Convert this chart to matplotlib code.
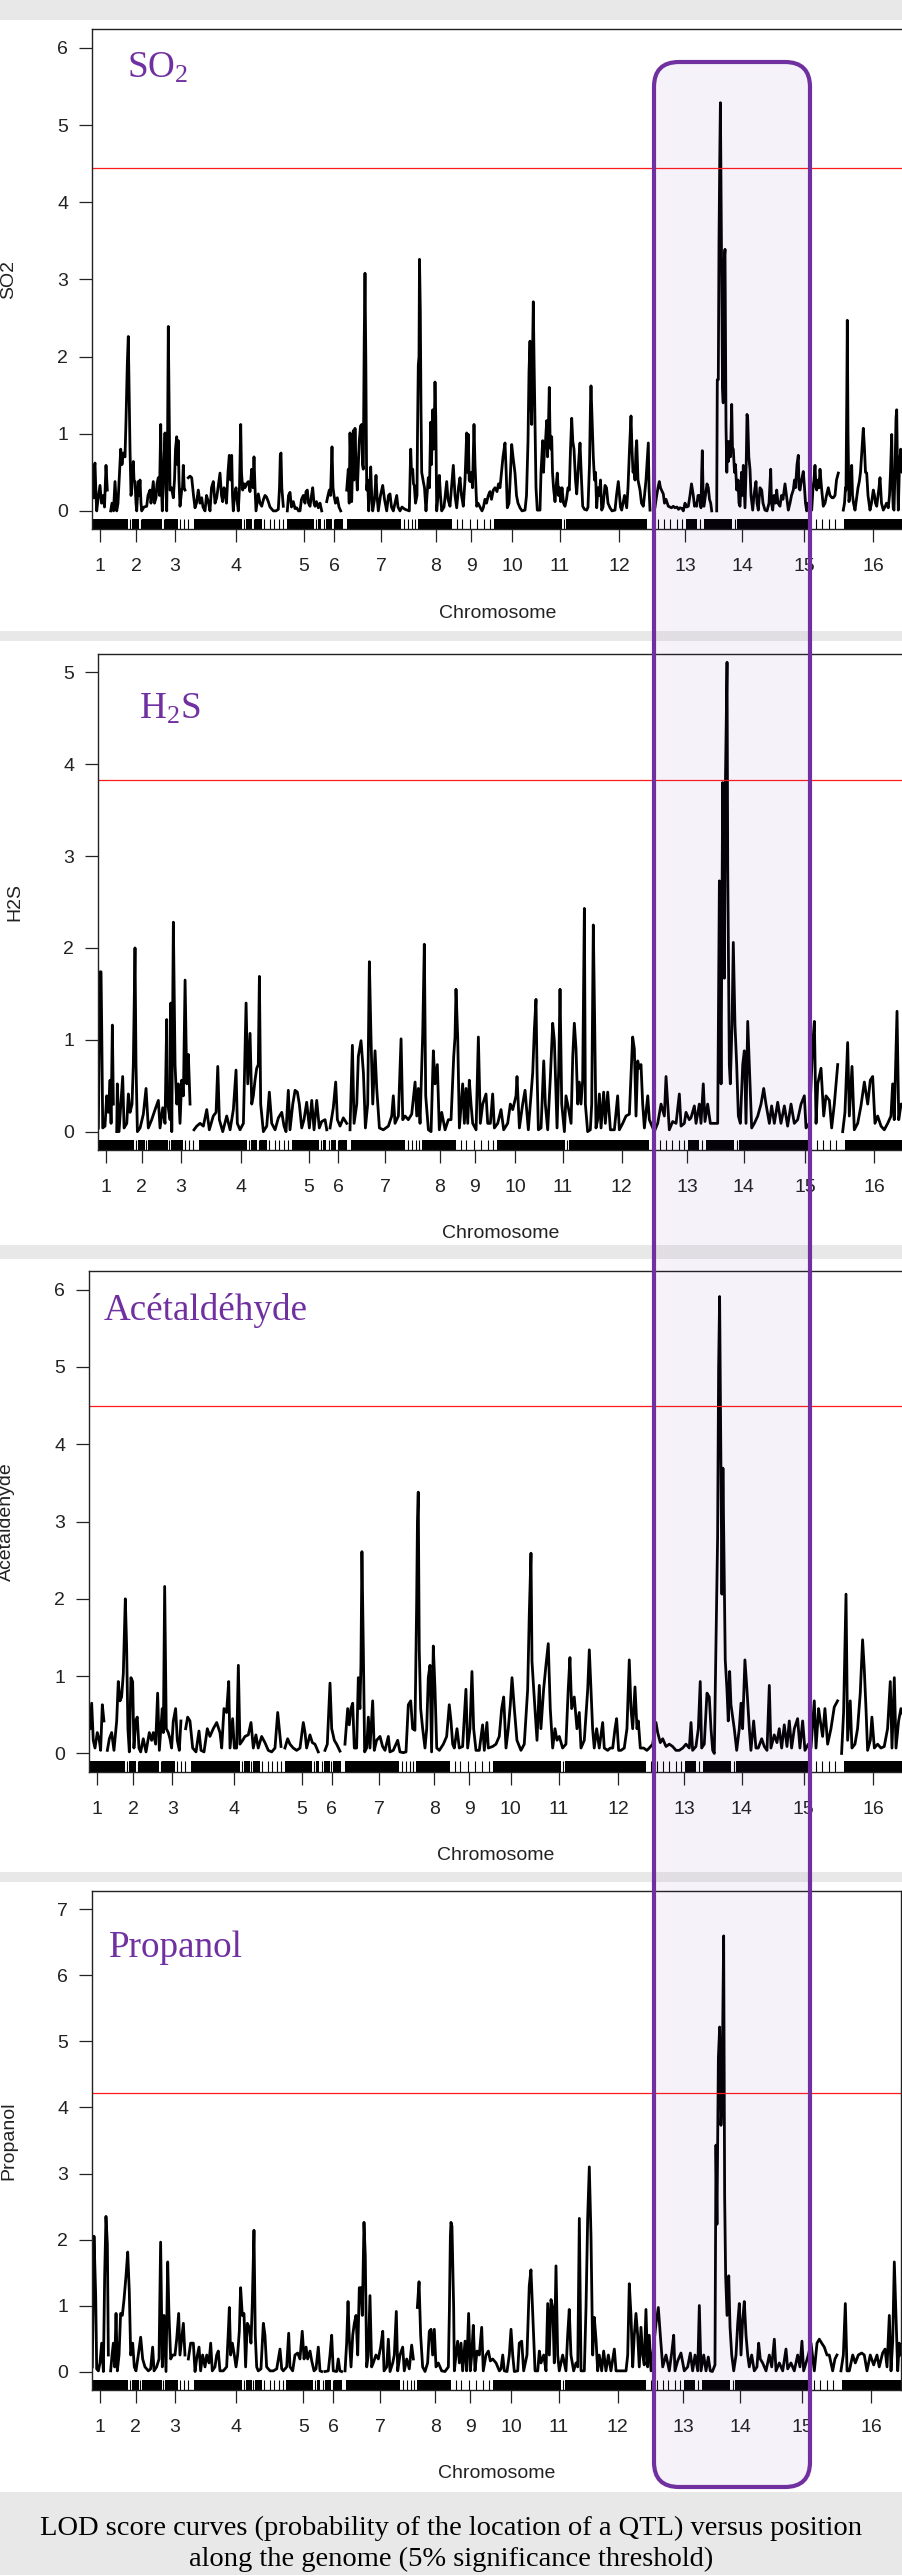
import numpy as np
import matplotlib
matplotlib.use("Agg")
import matplotlib.pyplot as plt
from matplotlib.patches import Rectangle, FancyBboxPatch

plt.rcParams["font.family"] = ["Liberation Sans", "DejaVu Sans"]
plt.rcParams["mathtext.fontset"] = "custom"
plt.rcParams["mathtext.rm"] = "Liberation Serif"
plt.rcParams["mathtext.it"] = "Liberation Serif:italic"

nan = float("nan")

# ---------------- data (genome position, LOD) ----------------
chromosomes = [str(i) for i in range(1, 17)]
chrom_mid = [8, 44, 83, 144, 212, 242, 289, 344, 379, 420, 468, 527, 593, 650, 712, 781]

traits = ["SO2", "H2S", "Acetaldehyde", "Propanol"]
titles = [r"SO$_2$", r"H$_2$S", "Acétaldéhyde", "Propanol"]
thresholds = [4.45, 3.83, 4.5, 4.22]
y_max = [6, 5, 6, 7]

# marker rug: dense blocks and isolated markers
rug_blocks = [(0, 36), (40, 47), (50, 70), (73, 86), (102, 150), (154, 160), (163, 170),
              (195, 222), (226, 229), (234, 240), (243, 251), (255, 309), (326, 360),
              (402, 470), (474, 555), (594, 605), (612, 640), (645, 718), (752, 812)]
rug_ticks = [38, 48.5, 71.5, 88, 92, 96, 152, 161.5, 172, 178, 182, 187, 191, 224, 232,
             241.5, 312, 316, 320, 323, 365, 370, 378, 385, 392, 398, 472, 560, 566, 572,
             578, 585, 590, 608, 643, 724, 730, 737, 743]

so2_curve = [
    (1.3, 0.17), (2.0, 0.55), (3.0, 0.62), (4.0, 0.2), (4.7, 0.0), (6.0, 0.15), (8.0, 0.33),
    (9.5, 0.1), (11.3, 0.2), (12.5, 0.05), (14.0, 0.59), (15.3, 0.27), (nan, nan),
    (18.7, 0.0), (20.0, 0.1), (21.5, 0.0), (23.0, 0.38), (24.7, 0.0), (26.0, 0.1), (28.7, 0.8),
    (30.0, 0.6), (31.3, 0.75), (33.0, 0.7), (34.0, 1.17), (35.3, 1.9), (36.3, 2.26), (37.2, 1.5),
    (38.0, 0.8), (39.0, 0.2), (39.7, 0.27), (41.3, 0.64), (42.0, 0.4), (43.0, 0.38), (44.0, 0.1),
    (44.7, 0.0), (46.3, 0.38), (47.0, 0.2), (48.0, 0.4), (49.0, 0.1), (49.7, 0.0), (52.0, 0.05),
    (54.7, 0.06), (56.0, 0.2), (58.0, 0.27), (59.0, 0.1), (61.3, 0.38), (62.5, 0.1), (64.0, 0.17),
    (65.0, 0.35), (66.3, 0.43), (67.5, 0.2), (68.7, 1.12), (69.5, 0.3), (70.3, 0.0), (71.5, 0.5),
    (73.0, 1.01), (74.0, 0.3), (74.7, 0.0), (75.5, 0.8), (76.3, 2.39), (77.0, 1.5), (78.0, 0.27),
    (79.5, 0.3), (81.3, 0.17), (82.5, 0.4), (83.5, 0.8), (84.7, 0.96), (85.5, 0.6), (86.3, 0.91),
    (87.0, 0.4), (88.0, 0.06), (89.7, 0.27), (90.5, 0.3), (91.3, 0.59), (92.2, 0.3), (93.0, 0.27),
    (nan, nan),
    (96.3, 0.43), (98.0, 0.45), (99.7, 0.43), (101.5, 0.2), (103.0, 0.04), (104.5, 0.1),
    (106.3, 0.27), (108.0, 0.1), (109.7, 0.17), (111.0, 0.05), (113.0, 0.0), (114.5, 0.2),
    (116.3, 0.12), (118.0, 0.0), (119.5, 0.3), (121.3, 0.38), (123.0, 0.1), (124.7, 0.17),
    (126.0, 0.3), (128.0, 0.49), (129.5, 0.2), (130.7, 0.12), (132.0, 0.3), (133.0, 0.27),
    (134.5, 0.1), (136.0, 0.5), (137.3, 0.72), (138.5, 0.4), (139.7, 0.72), (140.5, 0.2),
    (141.3, 0.0), (142.5, 0.2), (144.0, 0.3), (145.0, 0.15), (146.3, 0.0), (147.5, 0.3),
    (148.7, 1.12), (149.5, 0.5), (150.7, 0.27), (152.0, 0.35), (153.0, 0.3), (154.5, 0.35),
    (156.3, 0.38), (158.0, 0.25), (159.7, 0.54), (161.0, 0.3), (162.0, 0.7), (163.0, 0.3),
    (164.0, 0.0), (165.0, 0.1), (166.3, 0.22), (168.0, 0.1), (169.7, 0.06), (171.5, 0.15),
    (173.0, 0.2), (174.5, 0.18), (176.3, 0.12), (178.0, 0.05), (181.3, 0.0), (184.0, 0.0),
    (186.3, 0.02), (187.5, 0.3), (188.3, 0.72), (189.0, 0.75), (189.8, 0.3), (191.3, 0.06),
    (nan, nan),
    (195.3, 0.0), (196.5, 0.2), (198.0, 0.24), (199.5, 0.05), (201.3, 0.12), (203.0, 0.03),
    (204.7, 0.04), (206.5, 0.0), (208.0, 0.0), (209.5, 0.15), (211.3, 0.2), (213.0, 0.1),
    (214.0, 0.25), (215.3, 0.27), (216.5, 0.1), (218.0, 0.06), (219.5, 0.2), (220.7, 0.3),
    (222.0, 0.1), (223.0, 0.06), (224.5, 0.12), (226.3, 0.04), (228.0, 0.1), (229.7, 0.0),
    (nan, nan),
    (234.7, 0.12), (236.0, 0.2), (237.3, 0.27), (238.5, 0.2), (239.5, 0.6), (240.0, 0.83),
    (241.0, 0.3), (242.0, 0.2), (243.5, 0.1), (245.3, 0.17), (247.0, 0.05), (248.7, 0.0),
    (nan, nan),
    (254.7, 0.27), (255.5, 0.4), (256.3, 0.54), (257.2, 0.1), (258.0, 1.01), (259.0, 0.5),
    (259.7, 0.12), (260.5, 0.6), (261.3, 1.04), (262.0, 0.4), (263.0, 1.07), (264.0, 0.6),
    (265.3, 0.27), (266.3, 0.6), (267.3, 0.91), (268.5, 1.1), (269.7, 1.12), (270.5, 0.6),
    (271.3, 0.54), (272.2, 2.2), (273.0, 3.08), (273.8, 2.0), (274.7, 0.27), (275.7, 0.4),
    (276.7, 0.0), (277.7, 0.3), (278.7, 0.57), (279.7, 0.2), (280.7, 0.0), (282.5, 0.15),
    (284.0, 0.46), (285.0, 0.2), (286.3, 0.0), (288.5, 0.2), (290.7, 0.33), (292.5, 0.15),
    (294.7, 0.0), (296.5, 0.2), (298.0, 0.22), (299.5, 0.05), (301.3, 0.0), (303.0, 0.1),
    (304.7, 0.2), (306.0, 0.05), (308.0, 0.0), (310.0, 0.05), (313.0, 0.02), (315.0, 0.01),
    (317.3, 0.0), (318.7, 0.8), (319.5, 0.5), (320.7, 0.54), (321.5, 0.35), (322.3, 0.33),
    (323.5, 0.1), (325.0, 0.2), (325.5, 1.0), (326.3, 1.89), (327.0, 2.0), (327.5, 3.26),
    (328.3, 2.6), (329.0, 1.3), (329.7, 0.5), (331.3, 0.38), (332.5, 0.3), (334.0, 0.0),
    (335.0, 0.2), (336.3, 0.43), (337.5, 0.3), (338.7, 1.15), (339.5, 0.6), (340.7, 1.31),
    (341.5, 0.8), (342.2, 1.0), (343.0, 1.67), (343.8, 1.2), (344.7, 0.0), (346.0, 0.2),
    (347.3, 0.46), (348.5, 0.2), (349.7, 0.0), (352.0, 0.05), (354.7, 0.38), (356.0, 0.15),
    (358.0, 0.06), (359.5, 0.3), (361.3, 0.59), (363.0, 0.2), (364.7, 0.04), (366.5, 0.3),
    (368.0, 0.43), (369.5, 0.2), (371.3, 0.06), (373.0, 0.4), (374.7, 1.01), (375.5, 0.5),
    (376.3, 0.99), (377.2, 0.4), (378.0, 0.38), (379.5, 0.5), (380.5, 0.3), (382.0, 1.12),
    (383.0, 0.6), (384.7, 0.06), (386.0, 0.1), (388.0, 0.05), (390.0, 0.0), (391.3, 0.04),
    (393.0, 0.15), (394.5, 0.1), (396.3, 0.2), (398.0, 0.25), (399.5, 0.15), (401.3, 0.27),
    (403.0, 0.3), (405.0, 0.25), (406.5, 0.35), (408.0, 0.3), (409.5, 0.5), (411.0, 0.7),
    (413.0, 0.88), (414.2, 0.5), (415.3, 0.04), (417.0, 0.1), (418.5, 0.5), (419.7, 0.86),
    (421.0, 0.7), (423.0, 0.49), (424.5, 0.2), (426.0, 0.1), (428.0, 0.04), (430.0, 0.0),
    (433.0, 0.01), (434.5, 0.2), (436.0, 0.9), (437.0, 1.8), (438.0, 2.2), (438.8, 1.5),
    (439.7, 1.12), (440.5, 2.0), (441.3, 2.71), (442.0, 2.0), (443.0, 1.12), (444.0, 0.3),
    (445.3, 0.01), (448.0, 0.01), (449.0, 0.5), (450.7, 0.91), (451.5, 0.5), (452.5, 0.8),
    (453.5, 0.9), (454.7, 1.17), (455.5, 0.7), (456.3, 1.0), (457.3, 1.6), (458.0, 1.0),
    (459.0, 0.8), (459.7, 0.96), (460.5, 0.5), (461.5, 0.3), (463.0, 0.12), (464.0, 0.3),
    (465.3, 0.49), (466.5, 0.2), (467.5, 0.3), (468.7, 0.12), (470.0, 0.3), (471.5, 0.1),
    (473.0, 0.06), (474.5, 0.15), (476.0, 0.3), (477.3, 0.27), (478.5, 0.8), (479.7, 1.2),
    (480.8, 0.9), (482.0, 0.8), (483.5, 0.4), (484.7, 0.22), (486.0, 0.5), (487.0, 0.7),
    (488.0, 0.88), (489.5, 0.4), (490.7, 0.06), (492.5, 0.02), (494.7, 0.01), (496.0, 0.05),
    (497.5, 0.6), (498.5, 1.4), (499.0, 1.62), (500.0, 1.2), (501.3, 0.7), (502.5, 0.4),
    (503.5, 0.5), (504.7, 0.04), (506.0, 0.3), (507.5, 0.2), (508.5, 0.4), (509.7, 0.01),
    (511.0, 0.05), (513.0, 0.33), (514.5, 0.3), (516.0, 0.1), (518.0, 0.04), (520.0, 0.0),
    (523.0, 0.01), (524.5, 0.2), (526.3, 0.38), (527.5, 0.2), (528.5, 0.05), (529.7, 0.01),
    (531.0, 0.1), (532.5, 0.2), (534.7, 0.04), (536.0, 0.3), (537.5, 0.8), (539.0, 1.23),
    (540.0, 0.8), (541.0, 0.5), (542.0, 0.54), (543.0, 0.4), (544.0, 0.8), (544.7, 0.91),
    (546.0, 0.4), (548.0, 0.27), (549.5, 0.1), (551.3, 0.06), (552.5, 0.2), (554.0, 0.4),
    (555.5, 0.7), (556.3, 0.88), (557.0, 0.3), (558.0, 0.01), (nan, nan),
    (563.0, 0.05), (564.7, 0.2), (566.0, 0.3), (567.3, 0.38), (568.5, 0.3), (569.5, 0.27),
    (571.3, 0.22), (572.5, 0.1), (574.0, 0.15), (576.3, 0.06), (578.0, 0.05), (579.5, 0.04),
    (581.3, 0.06), (583.0, 0.04), (585.0, 0.05), (586.5, 0.02), (588.0, 0.04), (590.0, 0.03),
    (591.3, 0.0), (593.0, 0.1), (594.5, 0.05), (596.3, 0.06), (598.0, 0.2), (599.5, 0.35),
    (601.3, 0.2), (602.5, 0.06), (604.0, 0.1), (604.7, 0.06), (606.0, 0.2), (607.5, 0.2),
    (609.0, 0.04), (609.7, 0.5), (610.3, 0.78), (611.0, 0.3), (612.0, 0.06), (613.5, 0.2),
    (615.0, 0.35), (616.3, 0.3), (617.5, 0.15), (618.7, 0.1), (619.7, 0.0), (nan, nan),
    (624.7, 0.0), (625.3, 1.7), (626.3, 1.7), (627.0, 3.5), (627.7, 4.5), (628.4, 5.29),
    (629.0, 4.2), (629.5, 3.4), (629.9, 2.6), (630.5, 1.6), (631.2, 1.4), (632.0, 3.2),
    (633.0, 3.39), (633.6, 2.0), (634.0, 1.1), (634.8, 0.5), (635.5, 0.9), (636.3, 0.64),
    (637.5, 0.9), (638.5, 0.7), (639.7, 1.38), (640.5, 0.8), (641.3, 0.8), (642.5, 0.5),
    (643.5, 0.6), (644.7, 0.27), (646.0, 0.4), (647.0, 0.1), (648.0, 0.06), (649.5, 0.5),
    (650.5, 0.2), (651.3, 0.59), (652.2, 0.3), (653.0, 0.04), (654.2, 0.6), (655.0, 1.25),
    (655.7, 1.2), (656.8, 0.7), (658.0, 0.54), (659.0, 0.2), (660.7, 0.01), (662.0, 0.2),
    (663.0, 0.3), (664.0, 0.38), (665.0, 0.1), (666.3, 0.01), (668.0, 0.3), (669.7, 0.27),
    (671.0, 0.1), (673.0, 0.01), (675.0, 0.0), (677.0, 0.1), (678.7, 0.54), (679.5, 0.1),
    (680.7, 0.01), (682.0, 0.2), (683.5, 0.1), (684.7, 0.27), (686.0, 0.1), (688.0, 0.06),
    (689.5, 0.2), (691.0, 0.15), (693.0, 0.35), (694.5, 0.2), (696.3, 0.01), (698.0, 0.1),
    (699.5, 0.2), (701.3, 0.27), (702.5, 0.4), (703.5, 0.3), (705.0, 0.6), (706.3, 0.72),
    (707.0, 0.3), (708.0, 0.27), (709.5, 0.4), (711.3, 0.51), (712.5, 0.3), (713.5, 0.1),
    (714.7, 0.0), (716.0, 0.1), (718.0, 0.05), (719.7, 0.01), (721.0, 0.3), (722.0, 0.4),
    (723.0, 0.59), (724.0, 0.3), (724.7, 0.27), (726.0, 0.4), (727.0, 0.3), (728.0, 0.54),
    (729.5, 0.3), (731.3, 0.06), (733.0, 0.1), (734.5, 0.2), (736.3, 0.3), (738.0, 0.2),
    (740.0, 0.17), (741.3, 0.17), (743.0, 0.2), (744.5, 0.4), (746.3, 0.49), (nan, nan),
    (751.3, 0.01), (752.5, 0.1), (753.5, 0.3), (754.0, 0.27), (754.8, 1.5), (755.3, 2.47),
    (756.0, 1.0), (757.0, 0.12), (758.5, 0.3), (759.7, 0.59), (760.5, 0.2), (761.5, 0.1),
    (763.0, 0.01), (765.0, 0.2), (766.0, 0.3), (767.3, 0.38), (768.5, 0.5), (770.0, 0.8),
    (771.3, 1.07), (772.5, 0.8), (773.5, 0.5), (774.7, 0.49), (776.0, 0.2), (778.0, 0.01),
    (779.5, 0.1), (781.3, 0.27), (782.5, 0.2), (783.5, 0.1), (784.7, 0.06), (786.0, 0.2),
    (787.0, 0.3), (788.0, 0.43), (789.5, 0.1), (791.3, 0.01), (793.0, 0.05), (794.5, 0.1),
    (796.3, 0.04), (797.5, 0.2), (798.5, 0.5), (799.7, 0.99), (800.5, 0.3), (801.2, 0.04),
    (802.0, 0.01), (803.0, 0.5), (804.0, 1.2), (804.7, 1.31), (805.5, 0.5), (806.3, 0.01),
    (807.5, 0.6), (808.7, 0.8), (810.0, 0.5), (812.0, 0.6),
]

h2s_curve = [
    (0.3, 0.04), (2.0, 1.74), (3.0, 1.74), (3.7, 1.12), (4.7, 0.04), (7.0, 0.06), (8.7, 0.39),
    (10.4, 0.21), (12.1, 0.56), (13.1, 0.09), (14.4, 1.16), (15.4, 0.3), (nan, nan),
    (18.8, 0.0), (19.4, 0.52), (21.1, 0.0), (24.8, 0.6), (26.2, 0.04), (28.9, 0.09), (30.5, 0.41),
    (32.2, 0.21), (34.2, 0.3), (35.5, 0.73), (37.2, 2.0), (38.2, 0.73), (39.6, 0.0), (42.3, 0.04),
    (45.6, 0.19), (48.3, 0.47), (50.6, 0.04), (54.0, 0.13), (57.4, 0.24), (60.7, 0.34),
    (62.4, 0.04), (65.1, 0.26), (67.4, 0.09), (69.1, 1.22), (70.1, 0.3), (72.5, 0.13), (73.2, 1.4),
    (74.2, 0.0), (75.8, 2.28), (77.5, 0.73), (79.2, 0.3), (80.8, 0.52), (82.5, 0.09), (84.2, 0.56),
    (85.9, 0.39), (87.6, 1.65), (89.3, 0.52), (90.9, 0.84), (92.6, 0.3), (nan, nan),
    (96.6, 0.02), (99.3, 0.06), (102.7, 0.09), (106.0, 0.06), (109.4, 0.24), (112.0, 0.02),
    (116.0, 0.17), (118.8, 0.21), (120.5, 0.71), (122.1, 0.13), (125.5, 0.0), (129.5, 0.17),
    (132.9, 0.02), (136.2, 0.24), (138.9, 0.67), (140.2, 0.09), (142.9, 0.02), (146.3, 0.09),
    (149.0, 1.4), (150.7, 0.52), (153.0, 1.07), (154.7, 0.3), (156.3, 0.39), (158.0, 0.56),
    (159.7, 0.69), (161.3, 0.73), (162.4, 1.69), (163.7, 0.3), (166.4, 0.0), (169.8, 0.06),
    (172.4, 0.43), (174.8, 0.09), (178.2, 0.02), (181.5, 0.15), (184.9, 0.21), (187.2, 0.06),
    (189.2, 0.0), (191.5, 0.45), (193.2, 0.02), (196.0, 0.3), (198.3, 0.45), (200.6, 0.43),
    (202.6, 0.3), (205.0, 0.04), (207.3, 0.13), (210.0, 0.32), (212.7, 0.04), (215.1, 0.34),
    (217.4, 0.02), (220.1, 0.34), (222.7, 0.04), (225.1, 0.11), (228.5, 0.13), (230.2, 0.02),
    (nan, nan),
    (233.5, 0.04), (236.8, 0.26), (239.2, 0.54), (240.9, 0.13), (243.6, 0.06), (246.9, 0.15),
    (250.3, 0.09), (nan, nan),
    (253.6, 0.02), (256.0, 0.94), (257.7, 0.09), (260.4, 0.3), (262.0, 0.82), (264.7, 0.99),
    (267.1, 0.64), (269.1, 0.04), (271.4, 0.3), (273.1, 1.85), (274.8, 0.99), (276.5, 0.3),
    (278.8, 0.88), (280.5, 0.47), (283.2, 0.04), (287.2, 0.02), (292.2, 0.06), (295.6, 0.17),
    (297.2, 0.39), (298.9, 0.09), (302.3, 0.17), (305.0, 1.01), (306.7, 0.13), (309.0, 0.17),
    (312.3, 0.13), (315.7, 0.19), (319.1, 0.54), (320.8, 0.17), (322.4, 0.47), (324.1, 0.09),
    (326.8, 1.07), (328.4, 2.04), (329.8, 0.39), (332.5, 0.02), (335.2, 0.0), (337.5, 0.88),
    (339.2, 0.52), (341.5, 0.73), (343.5, 0.02), (345.9, 0.21), (349.3, 0.02), (352.6, 0.13),
    (355.3, 0.13), (358.0, 0.82), (359.3, 1.03), (360.3, 1.55), (362.0, 1.03), (363.7, 0.04),
    (367.0, 0.52), (368.7, 0.09), (370.4, 0.47), (372.1, 0.09), (373.7, 0.56), (375.4, 0.3),
    (377.1, 0.09), (380.5, 0.02), (382.8, 1.03), (384.8, 0.09), (387.2, 0.3), (390.5, 0.41),
    (392.2, 0.09), (394.9, 0.09), (397.2, 0.41), (398.9, 0.04), (402.3, 0.09), (405.6, 0.24),
    (408.3, 0.02), (412.3, 0.09), (415.0, 0.3), (417.4, 0.24), (420.7, 0.39), (421.7, 0.6),
    (424.1, 0.04), (427.4, 0.3), (429.8, 0.45), (433.1, 0.02), (437.5, 0.64), (439.2, 1.12),
    (440.8, 1.44), (441.9, 0.64), (443.2, 0.02), (445.9, 0.04), (448.6, 0.77), (450.2, 0.3),
    (452.6, 0.02), (455.3, 0.6), (457.6, 1.18), (459.3, 0.99), (462.0, 0.04), (463.7, 0.69),
    (465.0, 1.55), (466.7, 0.3), (469.4, 0.0), (471.0, 0.39), (473.4, 0.26), (476.1, 0.09),
    (477.8, 0.82), (479.4, 1.18), (481.1, 0.9), (482.8, 0.3), (484.4, 0.54), (486.1, 0.3),
    (487.8, 0.56), (489.5, 2.43), (490.5, 0.3), (492.8, 0.0), (495.5, 0.02), (496.9, 0.3),
    (498.5, 2.25), (499.9, 1.16), (501.2, 0.04), (502.9, 0.13), (504.6, 0.41), (506.3, 0.04),
    (508.9, 0.43), (510.6, 0.09), (513.0, 0.43), (515.7, 0.02), (519.7, 0.02), (523.0, 0.39),
    (524.7, 0.02), (528.1, 0.09), (531.4, 0.17), (534.8, 0.19), (538.1, 1.03), (539.8, 0.9),
    (541.5, 0.17), (543.2, 0.77), (544.8, 0.69), (546.5, 0.73), (548.2, 0.3), (549.9, 0.04),
    (553.3, 0.39), (554.9, 0.13), (559.9, 0.0), (563.3, 0.09), (566.7, 0.3), (570.0, 0.17),
    (571.7, 0.6), (573.4, 0.3), (575.0, 0.02), (578.4, 0.11), (581.8, 0.09), (585.1, 0.41),
    (586.8, 0.06), (590.1, 0.09), (591.8, 0.21), (595.1, 0.13), (596.8, 0.15), (600.2, 0.28),
    (601.9, 0.09), (605.2, 0.3), (606.9, 0.09), (609.2, 0.52), (610.9, 0.11), (613.6, 0.3),
    (616.3, 0.09), (620.3, 0.09), (623.7, 0.09), (624.6, 1.5), (625.4, 2.73), (626.2, 1.8),
    (627.1, 0.52), (628.0, 2.5), (628.7, 3.8), (630.4, 1.67), (631.4, 3.74), (632.3, 4.5),
    (633.1, 5.11), (633.8, 2.87), (635.4, 0.73), (636.4, 0.52), (638.1, 1.16), (639.4, 2.06),
    (641.1, 1.16), (642.8, 0.73), (644.5, 0.17), (646.5, 0.09), (648.9, 0.73), (650.5, 0.88),
    (652.2, 0.09), (653.9, 1.2), (655.5, 0.73), (657.9, 0.04), (660.6, 0.09), (664.0, 0.17),
    (667.3, 0.3), (670.0, 0.47), (672.3, 0.3), (675.7, 0.09), (678.0, 0.28), (680.7, 0.09),
    (684.1, 0.32), (687.4, 0.09), (690.8, 0.28), (694.1, 0.06), (697.5, 0.3), (700.8, 0.09),
    (704.2, 0.13), (707.6, 0.3), (710.9, 0.39), (712.6, 0.04), (716.0, 0.09), (719.3, 0.94),
    (721.0, 1.2), (722.7, 0.09), (724.4, 0.52), (727.7, 0.69), (730.4, 0.17), (732.7, 0.39),
    (736.1, 0.34), (738.4, 0.04), (741.1, 0.3), (744.5, 0.73), (nan, nan),
    (749.5, 0.0), (751.8, 0.21), (754.5, 0.97), (756.2, 0.17), (758.9, 0.71), (761.2, 0.02),
    (764.6, 0.09), (767.9, 0.28), (771.3, 0.54), (774.7, 0.3), (777.3, 0.56), (779.7, 0.6),
    (782.0, 0.09), (784.7, 0.17), (788.1, 0.06), (791.4, 0.02), (794.8, 0.09), (798.1, 0.17),
    (799.8, 0.52), (801.4, 0.13), (804.2, 1.31), (805.9, 0.13), (808.3, 0.3), (811.0, 0.3),
]

acet_curve = [
    (1.0, 0.32), (2.7, 0.65), (4.3, 0.17), (6.0, 0.07), (8.3, 0.27), (10.3, 0.17), (11.6, 0.04),
    (13.3, 0.63), (14.9, 0.42), (nan, nan),
    (18.3, 0.04), (20.3, 0.19), (22.6, 0.27), (24.9, 0.04), (27.6, 0.42), (29.2, 0.93),
    (30.9, 0.68), (32.5, 0.73), (34.2, 1.03), (36.2, 2.0), (37.5, 1.39), (38.8, 0.32), (40.2, 0.02),
    (41.8, 0.98), (43.5, 0.93), (44.8, 0.07), (46.5, 0.42), (48.1, 0.47), (49.8, 0.07),
    (51.5, 0.02), (54.1, 0.19), (56.8, 0.02), (60.1, 0.27), (62.4, 0.17), (64.1, 0.27),
    (66.4, 0.12), (68.4, 0.78), (70.1, 0.04), (73.0, 0.58), (74.1, 0.27), (75.4, 2.16),
    (77.0, 0.32), (79.0, 0.27), (80.7, 0.19), (82.3, 0.07), (84.0, 0.42), (86.3, 0.58),
    (88.0, 0.17), (90.0, 0.04), (91.6, 0.42), (nan, nan),
    (96.3, 0.32), (98.3, 0.47), (100.6, 0.42), (103.3, 0.07), (106.6, 0.02), (109.6, 0.29),
    (111.6, 0.04), (114.6, 0.02), (117.9, 0.32), (120.5, 0.22), (123.8, 0.32), (127.2, 0.4),
    (130.5, 0.27), (132.2, 0.07), (134.5, 0.58), (137.1, 0.53), (139.2, 0.93), (140.5, 0.07),
    (143.1, 0.45), (144.8, 0.07), (147.1, 0.07), (148.8, 1.14), (150.4, 0.12), (153.1, 0.17),
    (155.4, 0.22), (158.7, 0.24), (161.4, 0.4), (163.7, 0.07), (166.3, 0.24), (168.6, 0.07),
    (172.0, 0.22), (175.3, 0.14), (178.6, 0.04), (182.0, 0.02), (185.3, 0.07), (188.0, 0.53),
    (189.6, 0.32), (191.3, 0.09), (nan, nan),
    (195.2, 0.07), (197.9, 0.19), (200.2, 0.12), (203.5, 0.07), (206.9, 0.04), (210.2, 0.07),
    (213.5, 0.4), (215.2, 0.27), (216.8, 0.07), (220.1, 0.24), (222.5, 0.14), (225.1, 0.12),
    (228.4, 0.02), (nan, nan),
    (235.1, 0.04), (237.4, 0.12), (240.1, 0.91), (241.8, 0.32), (244.4, 0.17), (246.7, 0.12),
    (250.0, 0.03), (nan, nan),
    (255.0, 0.12), (257.7, 0.58), (259.3, 0.37), (261.0, 0.58), (262.7, 0.65), (264.3, 0.07),
    (266.6, 0.07), (268.3, 0.98), (269.9, 0.58), (270.9, 1.14), (271.9, 2.61), (273.3, 1.34),
    (274.6, 0.02), (276.6, 0.07), (278.3, 0.47), (279.9, 0.07), (282.6, 0.68), (284.2, 0.04),
    (286.5, 0.17), (289.9, 0.22), (292.5, 0.09), (294.9, 0.04), (298.2, 0.22), (299.8, 0.02),
    (303.1, 0.04), (307.5, 0.17), (309.8, 0.02), (313.1, 0.01), (315.8, 0.02), (318.1, 0.63),
    (320.5, 0.68), (322.4, 0.32), (324.7, 0.3), (326.4, 1.93), (327.2, 3.0), (328.0, 3.38),
    (329.0, 1.34), (330.4, 0.58), (332.4, 0.32), (334.7, 0.07), (336.4, 0.32), (338.0, 0.98),
    (339.7, 1.14), (341.3, 0.02), (343.0, 1.39), (344.7, 0.83), (346.4, 0.07), (349.0, 0.04),
    (353.0, 0.12), (356.3, 0.22), (358.9, 0.63), (360.6, 0.42), (362.3, 0.12), (363.9, 0.07),
    (366.6, 0.32), (368.9, 0.07), (372.2, 0.09), (375.5, 0.83), (377.2, 0.07), (379.5, 0.32),
    (381.5, 1.06), (383.2, 0.32), (385.5, 0.04), (388.8, 0.04), (392.1, 0.37), (393.8, 0.04),
    (396.4, 0.4), (397.8, 0.07), (402.1, 0.09), (405.4, 0.12), (408.7, 0.22), (411.1, 0.58),
    (413.1, 0.73), (415.4, 0.07), (417.7, 0.32), (419.7, 0.63), (421.4, 0.98), (423.7, 0.58),
    (426.3, 0.17), (430.3, 0.04), (433.6, 0.12), (437.0, 0.83), (438.6, 1.8), (440.3, 2.59),
    (441.3, 1.19), (443.0, 0.83), (446.3, 0.17), (448.6, 0.88), (450.2, 0.32), (452.9, 0.83),
    (455.2, 1.14), (457.5, 1.42), (459.5, 0.58), (461.9, 0.07), (464.2, 0.32), (466.2, 0.17),
    (468.5, 0.22), (471.8, 0.07), (475.1, 0.12), (477.4, 0.83), (479.1, 1.24), (480.8, 0.58),
    (483.4, 0.73), (486.1, 0.32), (488.4, 0.53), (490.1, 0.07), (493.4, 0.17), (496.8, 0.83),
    (498.4, 1.34), (500.0, 0.83), (501.7, 0.32), (503.3, 0.07), (505.7, 0.32), (508.3, 0.07),
    (511.7, 0.4), (513.3, 0.07), (516.7, 0.04), (519.3, 0.07), (521.7, 0.07), (524.0, 0.32),
    (525.6, 0.45), (527.6, 0.04), (529.9, 0.04), (533.2, 0.07), (535.9, 0.32), (538.2, 1.21),
    (539.9, 0.58), (541.6, 0.32), (543.9, 0.86), (545.9, 0.32), (547.2, 0.42), (549.2, 0.07),
    (552.5, 0.07), (555.8, 0.04), (558.1, 0.07), (561.5, 0.12), (564.8, 0.4), (566.5, 0.27),
    (569.1, 0.14), (571.5, 0.19), (574.8, 0.09), (578.1, 0.12), (581.4, 0.09), (584.7, 0.04),
    (588.0, 0.04), (591.4, 0.07), (594.7, 0.12), (598.0, 0.07), (599.7, 0.4), (601.3, 0.04),
    (604.6, 0.09), (607.0, 0.32), (608.9, 0.93), (610.3, 0.07), (612.9, 0.12), (615.6, 0.78),
    (617.9, 0.73), (619.6, 0.32), (621.3, 0.04), (622.9, 0.0), (624.6, 1.44), (626.2, 2.8),
    (627.2, 4.99), (628.2, 5.91), (629.5, 3.69), (630.5, 2.06), (631.5, 3.69), (632.9, 2.2),
    (633.8, 1.21), (635.5, 0.83), (636.8, 0.42), (638.2, 1.06), (639.5, 0.63), (641.2, 0.47),
    (642.8, 0.32), (645.2, 0.04), (647.8, 0.32), (649.5, 0.65), (651.1, 0.32), (653.4, 1.21),
    (655.4, 0.83), (657.8, 0.32), (659.4, 0.04), (662.1, 0.42), (664.4, 0.07), (666.7, 0.07),
    (670.1, 0.19), (672.7, 0.09), (675.4, 0.04), (677.7, 0.88), (679.3, 0.07), (682.6, 0.24),
    (685.3, 0.14), (687.6, 0.32), (690.0, 0.07), (692.6, 0.37), (695.3, 0.09), (697.6, 0.42),
    (699.9, 0.07), (702.6, 0.32), (705.9, 0.45), (708.2, 0.07), (710.9, 0.42), (713.2, 0.04),
    (716.5, 0.12), (719.2, 0.07), (722.5, 0.68), (724.2, 0.07), (726.8, 0.58), (728.5, 0.42),
    (730.8, 0.22), (733.1, 0.58), (735.8, 0.12), (739.1, 0.32), (742.4, 0.6), (745.7, 0.68),
    (nan, nan),
    (749.7, 0.0), (751.7, 0.53), (754.1, 2.06), (755.7, 0.17), (758.3, 0.68), (760.0, 0.07),
    (763.0, 0.12), (765.6, 0.32), (768.3, 0.78), (770.6, 1.47), (772.3, 1.09), (774.0, 0.58),
    (775.6, 0.04), (778.3, 0.17), (779.9, 0.47), (782.3, 0.07), (785.6, 0.12), (788.9, 0.07),
    (792.2, 0.09), (795.5, 0.32), (798.2, 0.93), (799.9, 0.07), (802.2, 0.98), (803.9, 0.07),
    (806.5, 0.42), (808.8, 0.58), (811.0, 0.5),
]

prop_curve = [
    (0.3, 0.07), (2.0, 2.05), (3.7, 1.15), (4.7, 0.04), (6.4, 0.01), (8.0, 0.13), (9.7, 0.43),
    (11.4, 0.0), (12.7, 1.45), (14.0, 2.35), (15.4, 1.93), (16.4, 0.25), (nan, nan),
    (18.7, 0.01), (20.1, 0.25), (21.4, 0.43), (22.7, 0.07), (24.1, 0.88), (25.4, 0.01),
    (27.1, 0.25), (28.7, 0.88), (30.4, 0.85), (32.1, 1.09), (34.1, 1.45), (35.8, 1.81),
    (37.4, 1.21), (38.8, 0.25), (40.8, 0.43), (42.4, 0.07), (44.1, 0.01), (46.4, 0.25),
    (48.8, 0.52), (50.8, 0.19), (53.1, 0.07), (56.5, 0.01), (58.8, 0.04), (60.8, 0.37),
    (62.2, 0.01), (64.8, 0.07), (67.2, 0.19), (68.8, 1.96), (70.5, 0.07), (72.2, 0.85),
    (74.2, 0.0), (75.9, 1.66), (77.2, 0.85), (78.9, 0.19), (80.9, 0.25), (83.2, 0.25),
    (84.9, 0.49), (86.9, 0.88), (88.2, 0.25), (89.9, 0.49), (91.6, 0.73), (93.2, 0.25), (nan, nan),
    (96.6, 0.19), (98.9, 0.43), (101.6, 0.43), (103.3, 0.0), (104.9, 0.19), (107.3, 0.37),
    (108.9, 0.01), (110.9, 0.25), (113.3, 0.07), (115.0, 0.25), (117.3, 0.13), (119.0, 0.43),
    (120.6, 0.01), (123.3, 0.07), (125.0, 0.25), (126.6, 0.31), (128.3, 0.01), (131.6, 0.01),
    (135.0, 0.07), (136.7, 0.61), (137.7, 0.97), (139.0, 0.25), (140.7, 0.43), (142.7, 0.25),
    (144.4, 0.07), (146.0, 0.25), (147.7, 0.61), (149.0, 1.27), (150.7, 0.85), (152.4, 0.88),
    (154.0, 0.07), (155.7, 0.73), (157.7, 0.67), (159.4, 0.43), (160.7, 1.03), (162.4, 2.14),
    (163.7, 0.55), (165.1, 0.07), (166.7, 0.01), (169.4, 0.04), (171.8, 0.73), (173.4, 0.55),
    (175.1, 0.07), (178.5, 0.01), (181.8, 0.01), (185.2, 0.04), (188.5, 0.34), (190.2, 0.04),
    (191.8, 0.01), (195.2, 0.07), (197.2, 0.58), (198.5, 0.07), (201.2, 0.01), (203.5, 0.25),
    (206.2, 0.28), (208.5, 0.19), (210.8, 0.61), (212.6, 0.19), (214.6, 0.37), (216.2, 0.19),
    (218.6, 0.31), (220.3, 0.16), (222.6, 0.01), (224.6, 0.04), (226.9, 0.37), (228.6, 0.01),
    (230.3, 0.0), (nan, nan),
    (233.6, 0.0), (236.9, 0.01), (238.6, 0.25), (240.3, 0.55), (241.9, 0.01), (245.3, 0.0),
    (246.9, 0.19), (248.6, 0.01), (250.3, 0.0), (nan, nan),
    (253.7, 0.01), (255.3, 0.43), (256.7, 1.06), (258.0, 0.49), (259.7, 0.07), (261.4, 0.55),
    (263.0, 0.73), (264.7, 0.85), (266.4, 0.25), (268.0, 1.27), (269.7, 1.27), (271.0, 0.85),
    (272.7, 2.26), (274.0, 1.75), (275.4, 0.07), (277.0, 0.25), (278.7, 1.15), (280.4, 0.07),
    (282.0, 0.13), (284.7, 0.25), (287.1, 0.19), (289.4, 0.37), (291.5, 0.61), (292.8, 0.01),
    (295.5, 0.07), (297.1, 0.49), (298.8, 0.0), (301.5, 0.13), (303.1, 0.25), (305.1, 0.91),
    (306.5, 0.01), (308.8, 0.25), (311.5, 0.37), (313.1, 0.01), (315.5, 0.19), (318.1, 0.04),
    (320.5, 0.4), (322.2, 0.19), (nan, nan),
    (326.2, 0.97), (327.9, 1.36), (329.5, 0.55), (331.5, 0.07), (333.9, 0.0), (336.5, 0.13),
    (338.2, 0.61), (339.9, 0.64), (341.5, 0.25), (343.2, 0.64), (344.9, 0.07), (347.2, 0.13),
    (350.6, 0.01), (353.9, 0.0), (357.3, 0.07), (358.3, 0.91), (359.3, 2.05), (359.9, 2.26),
    (360.9, 2.2), (362.6, 0.97), (363.3, 0.01), (364.9, 0.25), (366.6, 0.46), (368.3, 0.13),
    (370.0, 0.43), (371.6, 0.01), (374.0, 0.46), (375.6, 0.01), (377.6, 0.88), (379.3, 0.01),
    (380.7, 0.25), (382.3, 0.7), (384.0, 0.01), (386.0, 0.31), (388.3, 0.25), (390.7, 0.67),
    (392.3, 0.01), (395.0, 0.25), (397.4, 0.31), (399.4, 0.16), (401.7, 0.19), (405.1, 0.13),
    (408.4, 0.01), (410.1, 0.04), (411.8, 0.25), (413.4, 0.01), (416.1, 0.0), (418.4, 0.25),
    (420.1, 0.64), (421.8, 0.25), (423.4, 0.0), (426.8, 0.01), (428.4, 0.43), (430.8, 0.46),
    (432.8, 0.01), (436.1, 0.25), (438.4, 1.3), (440.1, 1.54), (441.8, 0.91), (444.2, 0.01),
    (446.9, 0.01), (448.5, 0.31), (450.2, 0.13), (452.9, 0.25), (455.2, 0.01), (456.9, 1.03),
    (458.5, 0.25), (460.2, 1.09), (461.9, 0.97), (463.5, 0.13), (465.2, 1.6), (466.9, 0.25),
    (468.5, 0.01), (471.9, 0.25), (475.2, 0.01), (476.9, 0.55), (478.5, 0.94), (480.2, 0.25),
    (482.9, 0.01), (485.3, 0.13), (487.0, 0.07), (488.6, 2.32), (490.3, 0.01), (493.6, 0.01),
    (495.3, 0.97), (497.0, 2.35), (498.6, 3.1), (500.3, 2.05), (502.0, 0.25), (503.6, 0.82),
    (505.3, 0.49), (507.0, 0.01), (508.6, 0.25), (511.0, 0.01), (513.0, 0.31), (515.3, 0.01),
    (517.7, 0.25), (520.3, 0.01), (523.7, 0.34), (525.4, 0.01), (528.7, 0.01), (532.1, 0.01),
    (535.4, 0.01), (537.1, 0.25), (538.7, 1.33), (540.4, 0.85), (542.1, 0.07), (543.7, 0.55),
    (545.4, 0.88), (547.1, 0.55), (548.7, 0.07), (550.4, 0.67), (552.1, 0.25), (553.7, 0.1),
    (555.4, 0.94), (557.1, 0.07), (558.7, 0.55), (560.5, 0.01), (562.2, 0.25), (565.5, 0.73),
    (567.8, 0.97), (569.8, 0.55), (572.2, 0.07), (575.5, 0.25), (578.8, 0.01), (581.2, 0.28),
    (583.2, 0.55), (584.5, 0.01), (587.2, 0.16), (590.5, 0.28), (593.8, 0.01), (597.2, 0.07),
    (599.9, 0.28), (602.2, 0.01), (604.6, 0.25), (607.3, 0.01), (608.9, 1.0), (610.6, 0.01),
    (613.3, 0.25), (615.6, 0.01), (617.9, 0.22), (619.9, 0.01), (622.0, 0.0), (624.6, 0.1),
    (625.6, 3.43), (626.6, 2.23), (628.0, 4.75), (629.3, 5.22), (630.6, 3.73), (631.6, 4.09),
    (632.5, 5.5), (633.3, 6.6), (634.3, 2.65), (635.3, 1.45), (636.7, 0.85), (638.4, 1.45),
    (639.7, 0.67), (641.4, 0.25), (643.4, 0.01), (645.7, 0.25), (647.4, 0.73), (649.0, 1.03),
    (650.7, 0.25), (652.4, 0.79), (654.0, 1.06), (655.7, 0.55), (657.4, 0.25), (659.0, 0.07),
    (661.4, 0.25), (664.0, 0.01), (666.7, 0.07), (668.4, 0.43), (670.0, 0.19), (672.4, 0.13),
    (675.8, 0.01), (679.1, 0.25), (681.5, 0.07), (684.1, 0.49), (685.8, 0.01), (689.1, 0.13),
    (692.5, 0.01), (695.8, 0.34), (697.5, 0.04), (700.8, 0.13), (704.1, 0.01), (707.5, 0.25),
    (709.8, 0.07), (711.8, 0.46), (713.5, 0.01), (715.9, 0.13), (718.2, 0.25), (720.9, 0.43),
    (724.2, 0.01), (726.9, 0.43), (729.2, 0.49), (731.6, 0.43), (734.2, 0.37), (736.9, 0.25),
    (739.2, 0.25), (742.6, 0.01), (744.9, 0.19), (746.9, 0.25), (nan, nan),
    (750.9, 0.01), (753.3, 0.25), (755.3, 1.03), (757.0, 0.01), (759.3, 0.01), (762.7, 0.25),
    (765.3, 0.13), (768.3, 0.25), (771.7, 0.28), (774.3, 0.25), (777.0, 0.01), (780.3, 0.25),
    (783.7, 0.1), (787.0, 0.25), (789.3, 0.07), (792.7, 0.28), (795.1, 0.34), (797.1, 0.07),
    (799.4, 0.85), (801.1, 0.01), (802.8, 0.46), (804.4, 1.66), (806.1, 0.85), (807.8, 0.01),
    (809.4, 0.43), (811.1, 0.25),
]

curves = [so2_curve, h2s_curve, acet_curve, prop_curve]

caption = ["LOD score curves (probability of the location of a QTL) versus position",
           "along the genome (5% significance threshold)"]

# ---------------- layout (pixels of the 902 x 2575 output) ----------------
W, H = 902, 2575
X_MAX = 811
# left edge, x scale, top, bottom of each plot box
boxes = [(92.0, 1.0, 29.4, 529.4), (98.05, 0.9935, 654, 1150),
         (88.97, 1.0039, 1271, 1772), (92.0, 0.9974, 1891, 2390)]
white_bands = [(20, 631), (641, 1245), (1259, 1872), (1882, 2492)]
title_pos = [(127, 77.5), (139, 719), (104, 1320), (109, 1957)]
PURPLE = "#7030A0"

fig = plt.figure(figsize=(W / 100, H / 100), dpi=100)
fig.patch.set_facecolor("#e8e8e8")

for y0, y1 in white_bands:
    fig.add_artist(Rectangle((0, 1 - y1 / H), 1, (y1 - y0) / H, transform=fig.transFigure,
                             facecolor="white", edgecolor="none", zorder=-5))

for i, curve in enumerate(curves):
    left, xs, top, bottom = boxes[i]
    right = left + xs * X_MAX
    ax = fig.add_axes([left / W, 1 - bottom / H, (right - left) / W, (bottom - top) / H])
    ax.patch.set_alpha(0)

    pts = np.array(curve, dtype=float)
    ax.plot(pts[:, 0], pts[:, 1], color="black", lw=2.0)
    ax.axhline(thresholds[i], color="#ff1a1a", lw=0.9)

    # marker rug
    for a, b in rug_blocks:
        ax.axvspan(a, b, ymin=0, ymax=0.021, facecolor="black", edgecolor="none")
    ax.vlines(rug_ticks, 0, 0.021, transform=ax.get_xaxis_transform(), color="black", lw=0.8)

    pad = 0.04 * y_max[i]
    ax.set_xlim(0, X_MAX)
    ax.set_ylim(-pad, y_max[i] + pad)
    ax.set_yticks(range(0, y_max[i] + 1))
    ax.set_xticks(chrom_mid)
    ax.set_xticklabels(chromosomes)
    ax.tick_params(axis="both", direction="out", length=9.2, width=0.9, labelsize=14,
                   colors="#222222")
    ax.tick_params(axis="x", pad=11.5)
    ax.tick_params(axis="y", pad=8)
    for sp in ax.spines.values():
        sp.set_linewidth(1.0)
        sp.set_color("#222222")

    fig.text((left - 83) / W, 1 - (top + bottom) / 2 / H, traits[i], rotation=90,
             ha="center", va="center", fontsize=14, color="#222222")
    fig.text((left + right) / 2 / W, 1 - (bottom + 84) / H, "Chromosome",
             ha="center", va="center", fontsize=14, color="#222222")

    tx, ty = title_pos[i]
    fig.text(tx / W, 1 - ty / H, titles[i], ha="left", va="baseline",
             family="Liberation Serif", fontsize=26.7, color=PURPLE)

# caption
fig.text(0.5, 1 - 2528 / H, caption[0], ha="center", va="center",
         family="Liberation Serif", fontsize=20.5, color="black")
fig.text(0.5, 1 - 2559 / H, caption[1], ha="center", va="center",
         family="Liberation Serif", fontsize=20.5, color="black")

# highlight box around chromosome 13-15
ov = fig.add_axes([0, 0, 1, 1], zorder=10)
ov.set_xlim(0, W)
ov.set_ylim(H, 0)
ov.set_axis_off()
ov.add_patch(FancyBboxPatch((654, 62), 156, 2425, boxstyle="round,pad=0,rounding_size=25",
                            linewidth=3.0, edgecolor=PURPLE,
                            facecolor=(0.44, 0.19, 0.63, 0.06)))

fig.savefig("out.png", dpi=100, facecolor=fig.get_facecolor())
